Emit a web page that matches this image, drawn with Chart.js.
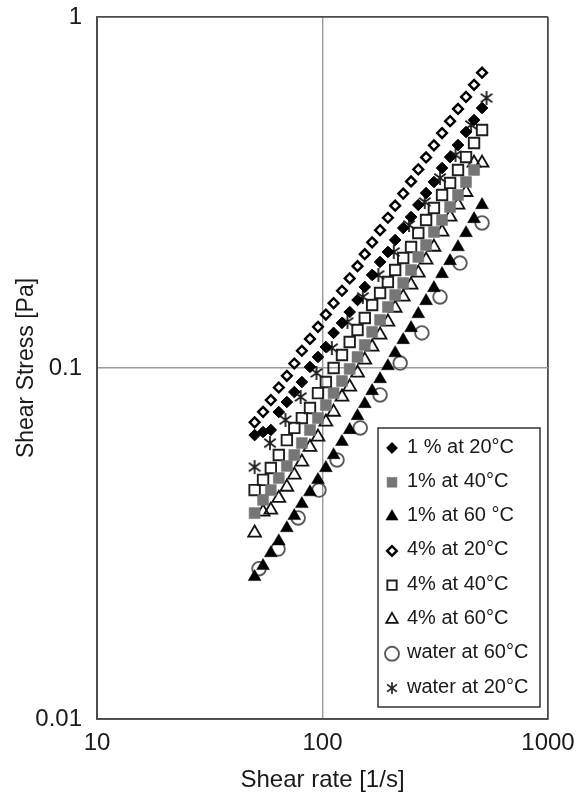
<!DOCTYPE html>
<html>
<head>
<meta charset="utf-8">
<script src="https://cdn.jsdelivr.net/npm/chart.js@4.4.1/dist/chart.umd.min.js"></script>
<style>
  html, body { margin: 0; padding: 0; background: #fff; }
  #wrap { width: 580px; height: 797px; }
</style>
</head>
<body>
<div id="wrap"><canvas id="chart" width="580" height="797"></canvas></div>
<script>
(function () {
  "use strict";

  // shear rates [1/s]
  const rateDense = [50, 54.5, 59, 64, 69.5, 75, 81, 88, 95.5, 103.5, 112, 122, 132, 143, 154,
    166, 180, 195, 210, 228, 247, 266, 288, 312, 339, 368, 399, 433, 470, 510];
  const rateWater20 = [50, 58.5, 68.5, 80, 94, 110, 129, 151, 177, 207, 242, 284, 332, 389, 456, 534];
  const rateWater60 = [52.3, 63.5, 78, 96.5, 116, 147, 180, 221, 276, 332, 407, 510];

  // shear stress [Pa]
  const stress1pct20 = [0.0644, 0.0657, 0.0666, 0.0749, 0.0800, 0.0854, 0.0912, 0.1007, 0.1075, 0.1148,
    0.1259, 0.1344, 0.1444, 0.1562, 0.1702, 0.1841, 0.2005, 0.2141, 0.2316, 0.2505,
    0.2693, 0.2914, 0.3151, 0.3388, 0.3713, 0.3990, 0.4317, 0.4703, 0.5087, 0.5504];
  const stress1pct40 = [0.0386, 0.0421, 0.0449, 0.0486, 0.0526, 0.0565, 0.0611, 0.0666, 0.0720, 0.0784,
    0.0848, 0.0918, 0.0994, 0.1075, 0.1163, 0.1267, 0.1371, 0.1492, 0.1614, 0.1746,
    0.1902, 0.2072, 0.2240, 0.2441, 0.2641, 0.2876, 0.3111, 0.3388, 0.3666];
  const stress1pct60 = [0.0254, 0.0273, 0.0297, 0.0321, 0.0350, 0.0379, 0.0410, 0.0443, 0.0480, 0.0519,
    0.0565, 0.0616, 0.0666, 0.0730, 0.0790, 0.0860, 0.0930, 0.1013, 0.1103, 0.1202,
    0.1300, 0.1425, 0.1552, 0.1690, 0.1853, 0.2018, 0.2211, 0.2424, 0.2658, 0.2914];
  const stress4pct20 = [0.070, 0.075, 0.081, 0.088, 0.095, 0.103, 0.112, 0.121, 0.131, 0.142,
    0.153, 0.166, 0.180, 0.195, 0.211, 0.228, 0.247, 0.268, 0.290, 0.314,
    0.340, 0.368, 0.398, 0.431, 0.467, 0.505, 0.547, 0.592, 0.641, 0.694];
  const stress4pct40 = [0.0449, 0.0480, 0.0519, 0.0565, 0.0623, 0.0675, 0.0720, 0.0769, 0.0848, 0.0912,
    0.1000, 0.1089, 0.1186, 0.1283, 0.1388, 0.1512, 0.1636, 0.1758, 0.1902, 0.2058,
    0.2211, 0.2424, 0.2641, 0.2856, 0.3111, 0.3367, 0.3666, 0.3990, 0.4375, 0.4765];
  const stress4pct60 = [0.0339, 0.0389, 0.0394, 0.0426, 0.0458, 0.0496, 0.0540, 0.0595, 0.0636, 0.0702,
    0.0749, 0.0827, 0.0883, 0.0968, 0.1054, 0.1148, 0.1242, 0.1353, 0.1482, 0.1594,
    0.1724, 0.1866, 0.2032, 0.2211, 0.2441, 0.2693, 0.2914, 0.3166, 0.3838, 0.3838];
  const stressWater60 = [0.0268, 0.0305, 0.0374, 0.0449, 0.0547, 0.0675, 0.0838, 0.1033, 0.1259, 0.1594,
    0.1990, 0.2590];
  const stressWater20 = [0.0522, 0.0611, 0.0711, 0.0827, 0.0968, 0.1140, 0.1353, 0.1594, 0.1841, 0.2141,
    0.2555, 0.2972, 0.3478, 0.4045, 0.4925, 0.5877];

  const xTicks = [10, 100, 1000];
  const xTickLabels = ["10", "100", "1000"];
  const yTicks = [0.01, 0.1, 1];
  const yTickLabels = ["0.01", "0.1", "1"];

  const FONT = "'Liberation Sans', Arial, Helvetica, sans-serif";
  const TEXT = "#1a1a1a";

  function zip(xs, ys) {
    const n = Math.min(xs.length, ys.length);
    const out = [];
    for (let i = 0; i < n; i++) out.push({ x: xs[i], y: ys[i] });
    return out;
  }

  // six-spoke asterisk for "water at 20°C"
  function makeAsterisk(size, lw, color) {
    const c = document.createElement("canvas");
    c.width = size;
    c.height = size;
    const g = c.getContext("2d");
    const m = size / 2;
    const r = size / 2 - 1;
    g.strokeStyle = color;
    g.lineWidth = lw;
    g.beginPath();
    g.moveTo(m, m - r); g.lineTo(m, m + r);
    g.moveTo(m - r * 0.82, m - r * 0.62); g.lineTo(m + r * 0.82, m + r * 0.62);
    g.moveTo(m + r * 0.82, m - r * 0.62); g.lineTo(m - r * 0.82, m + r * 0.62);
    g.stroke();
    return c;
  }
  const asterisk = makeAsterisk(16, 1.8, "#1e1e1e");
  const asteriskSmall = makeAsterisk(14, 1.6, "#1e1e1e");

  const series = [
    { label: "1 % at 20°C", data: zip(rateDense, stress1pct20), pointStyle: "rectRot", pointRadius: 5.8,
      backgroundColor: "#000", borderColor: "#000", borderWidth: 1, legendRadius: 5.4 },
    { label: "1% at 40°C", data: zip(rateDense, stress1pct40), pointStyle: "rect", pointRadius: 7.8,
      backgroundColor: "#767676", borderColor: "#767676", borderWidth: 0.5, legendRadius: 7 },
    { label: "1% at 60 °C", data: zip(rateDense, stress1pct60), pointStyle: "triangle", pointRadius: 7.4,
      backgroundColor: "#000", borderColor: "#000", borderWidth: 0.5, legendRadius: 7 },
    { label: "4% at 20°C", data: zip(rateDense, stress4pct20), pointStyle: "rectRot", pointRadius: 4.9,
      backgroundColor: "rgba(255,255,255,0)", borderColor: "#000", borderWidth: 2.4, legendRadius: 4.8 },
    { label: "4% at 40°C", data: zip(rateDense, stress4pct40), pointStyle: "rect", pointRadius: 7.4,
      backgroundColor: "rgba(255,255,255,0)", borderColor: "#1e1e1e", borderWidth: 1.9, legendRadius: 6.6 },
    { label: "4% at 60°C", data: zip(rateDense, stress4pct60), pointStyle: "triangle", pointRadius: 7.4,
      backgroundColor: "rgba(255,255,255,0)", borderColor: "#111", borderWidth: 1.8, legendRadius: 6.6 },
    { label: "water at 60°C", data: zip(rateWater60, stressWater60), pointStyle: "circle", pointRadius: 6.8,
      backgroundColor: "rgba(255,255,255,0)", borderColor: "#5a5a5a", borderWidth: 1.9, legendRadius: 7 },
    { label: "water at 20°C", data: zip(rateWater20, stressWater20), pointStyle: asterisk, pointRadius: 7,
      backgroundColor: "#1e1e1e", borderColor: "#1e1e1e", borderWidth: 1.8, legendStyle: asteriskSmall, legendRadius: 6 },
  ];

  const datasets = series.map((s) => ({
    label: s.label,
    data: s.data,
    pointStyle: s.pointStyle,
    pointRadius: s.pointRadius,
    pointHoverRadius: s.pointRadius,
    pointBackgroundColor: s.backgroundColor,
    pointBorderColor: s.borderColor,
    pointBorderWidth: s.borderWidth,
    showLine: false,
  }));

  // legend drawn inside the plot, lower right
  const legendBox = {
    id: "legendBox",
    afterDatasetsDraw(chart) {
      const ctx = chart.ctx;
      const left = 378, top = 428, width = 162, height = 279;
      ctx.save();
      ctx.fillStyle = "#fff";
      ctx.fillRect(left, top, width, height);
      ctx.strokeStyle = "#333";
      ctx.lineWidth = 1.5;
      ctx.strokeRect(left, top, width, height);
      ctx.font = "20px " + FONT;
      ctx.textBaseline = "middle";
      ctx.textAlign = "left";
      series.forEach((s, i) => {
        const y = top + 19 + i * 34.3;
        const mx = left + 14;
        ctx.fillStyle = s.backgroundColor;
        ctx.strokeStyle = s.borderColor;
        ctx.lineWidth = s.borderWidth;
        Chart.helpers.drawPoint(ctx, {
          pointStyle: s.legendStyle || s.pointStyle,
          radius: s.legendRadius,
          rotation: 0,
          borderWidth: s.borderWidth,
        }, mx, y + 1);
        ctx.fillStyle = TEXT;
        ctx.fillText(s.label, left + 29, y);
      });
      ctx.restore();
    },
  };

  const frameColor = "#4a4a4a";
  const innerGrid = "#9a9a9a";

  function noPad(s) {
    s.paddingLeft = 0;
    s.paddingRight = 0;
    s.paddingTop = 0;
    s.paddingBottom = 0;
  }

  new Chart(document.getElementById("chart").getContext("2d"), {
    type: "scatter",
    data: { datasets: datasets },
    options: {
      responsive: false,
      animation: false,
      events: [],
      layout: { padding: { top: 17, right: 32, left: 0, bottom: 0 } },
      plugins: { legend: { display: false }, tooltip: { enabled: false } },
      scales: {
        x: {
          type: "logarithmic",
          min: 10,
          max: 1000,
          afterBuildTicks: (s) => { s.ticks = xTicks.map((v) => ({ value: v })); },
          afterFit: (s) => { s.height = 78; noPad(s); },
          ticks: {
            autoSkip: false,
            maxRotation: 0,
            padding: 10,
            color: TEXT,
            font: { family: FONT, size: 24 },
            callback: (v) => xTickLabels[xTicks.indexOf(v)] || "",
          },
          grid: {
            drawTicks: false,
            color: (c) => (c.tick && c.tick.value === 100 ? innerGrid : frameColor),
            lineWidth: (c) => (c.tick && c.tick.value === 100 ? 1.4 : 1.8),
          },
          border: { display: true, color: frameColor, width: 1.8 },
          title: {
            display: true,
            text: "Shear rate [1/s]",
            color: TEXT,
            font: { family: FONT, size: 24 },
            padding: { top: 0, bottom: 2 },
          },
        },
        y: {
          type: "logarithmic",
          min: 0.01,
          max: 1,
          afterBuildTicks: (s) => { s.ticks = yTicks.map((v) => ({ value: v })); },
          afterFit: (s) => { s.width = 97; noPad(s); },
          ticks: {
            autoSkip: false,
            padding: 15,
            color: TEXT,
            font: { family: FONT, size: 24 },
            callback: (v) => yTickLabels[yTicks.indexOf(v)] || "",
          },
          grid: {
            drawTicks: false,
            color: (c) => (c.tick && c.tick.value === 0.1 ? innerGrid : frameColor),
            lineWidth: (c) => (c.tick && c.tick.value === 0.1 ? 1.4 : 1.8),
          },
          border: { display: true, color: frameColor, width: 1.8 },
          title: {
            display: true,
            text: "Shear Stress [Pa]",
            color: TEXT,
            font: { family: FONT, size: 23 },
            padding: { top: 13, bottom: 0 },
          },
        },
      },
    },
    plugins: [legendBox],
  });
})();
</script>
</body>
</html>
